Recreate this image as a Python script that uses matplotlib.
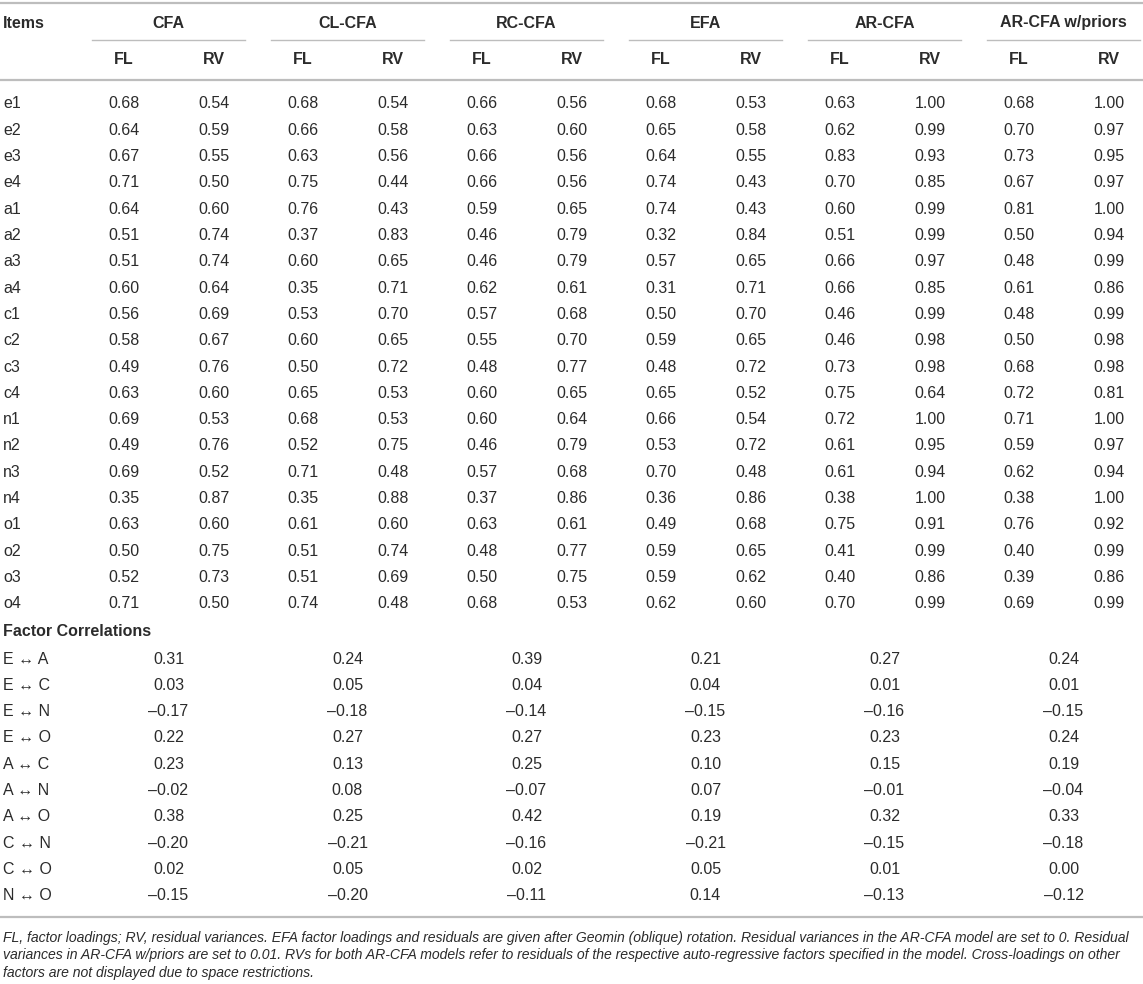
import matplotlib
matplotlib.use('Agg')
import matplotlib.pyplot as plt

plt.rcParams['font.family'] = ['Liberation Sans', 'DejaVu Sans']

models = ['CFA', 'CL-CFA', 'RC-CFA', 'EFA', 'AR-CFA', 'AR-CFA w/priors']
sub_cols = ['FL', 'RV']
items = ['e1', 'e2', 'e3', 'e4', 'a1', 'a2', 'a3', 'a4', 'c1', 'c2',
         'c3', 'c4', 'n1', 'n2', 'n3', 'n4', 'o1', 'o2', 'o3', 'o4']

# FL / RV pairs per model, one row per item
cfa = [(0.68, 0.54), (0.64, 0.59), (0.67, 0.55), (0.71, 0.50), (0.64, 0.60),
       (0.51, 0.74), (0.51, 0.74), (0.60, 0.64), (0.56, 0.69), (0.58, 0.67),
       (0.49, 0.76), (0.63, 0.60), (0.69, 0.53), (0.49, 0.76), (0.69, 0.52),
       (0.35, 0.87), (0.63, 0.60), (0.50, 0.75), (0.52, 0.73), (0.71, 0.50)]
cl_cfa = [(0.68, 0.54), (0.66, 0.58), (0.63, 0.56), (0.75, 0.44), (0.76, 0.43),
          (0.37, 0.83), (0.60, 0.65), (0.35, 0.71), (0.53, 0.70), (0.60, 0.65),
          (0.50, 0.72), (0.65, 0.53), (0.68, 0.53), (0.52, 0.75), (0.71, 0.48),
          (0.35, 0.88), (0.61, 0.60), (0.51, 0.74), (0.51, 0.69), (0.74, 0.48)]
rc_cfa = [(0.66, 0.56), (0.63, 0.60), (0.66, 0.56), (0.66, 0.56), (0.59, 0.65),
          (0.46, 0.79), (0.46, 0.79), (0.62, 0.61), (0.57, 0.68), (0.55, 0.70),
          (0.48, 0.77), (0.60, 0.65), (0.60, 0.64), (0.46, 0.79), (0.57, 0.68),
          (0.37, 0.86), (0.63, 0.61), (0.48, 0.77), (0.50, 0.75), (0.68, 0.53)]
efa = [(0.68, 0.53), (0.65, 0.58), (0.64, 0.55), (0.74, 0.43), (0.74, 0.43),
       (0.32, 0.84), (0.57, 0.65), (0.31, 0.71), (0.50, 0.70), (0.59, 0.65),
       (0.48, 0.72), (0.65, 0.52), (0.66, 0.54), (0.53, 0.72), (0.70, 0.48),
       (0.36, 0.86), (0.49, 0.68), (0.59, 0.65), (0.59, 0.62), (0.62, 0.60)]
ar_cfa = [(0.63, 1.00), (0.62, 0.99), (0.83, 0.93), (0.70, 0.85), (0.60, 0.99),
          (0.51, 0.99), (0.66, 0.97), (0.66, 0.85), (0.46, 0.99), (0.46, 0.98),
          (0.73, 0.98), (0.75, 0.64), (0.72, 1.00), (0.61, 0.95), (0.61, 0.94),
          (0.38, 1.00), (0.75, 0.91), (0.41, 0.99), (0.40, 0.86), (0.70, 0.99)]
ar_cfa_priors = [(0.68, 1.00), (0.70, 0.97), (0.73, 0.95), (0.67, 0.97), (0.81, 1.00),
                 (0.50, 0.94), (0.48, 0.99), (0.61, 0.86), (0.48, 0.99), (0.50, 0.98),
                 (0.68, 0.98), (0.72, 0.81), (0.71, 1.00), (0.59, 0.97), (0.62, 0.94),
                 (0.38, 1.00), (0.76, 0.92), (0.40, 0.99), (0.39, 0.86), (0.69, 0.99)]
loadings = [cfa, cl_cfa, rc_cfa, efa, ar_cfa, ar_cfa_priors]

pairs = ['E \u2194 A', 'E \u2194 C', 'E \u2194 N', 'E \u2194 O', 'A \u2194 C',
         'A \u2194 N', 'A \u2194 O', 'C \u2194 N', 'C \u2194 O', 'N \u2194 O']
corrs = [[0.31, 0.24, 0.39, 0.21, 0.27, 0.24],
         [0.03, 0.05, 0.04, 0.04, 0.01, 0.01],
         [-0.17, -0.18, -0.14, -0.15, -0.16, -0.15],
         [0.22, 0.27, 0.27, 0.23, 0.23, 0.24],
         [0.23, 0.13, 0.25, 0.10, 0.15, 0.19],
         [-0.02, 0.08, -0.07, 0.07, -0.01, -0.04],
         [0.38, 0.25, 0.42, 0.19, 0.32, 0.33],
         [-0.20, -0.21, -0.16, -0.21, -0.15, -0.18],
         [0.02, 0.05, 0.02, 0.05, 0.01, 0.00],
         [-0.15, -0.20, -0.11, 0.14, -0.13, -0.12]]

notes = [
    'FL, factor loadings; RV, residual variances. EFA factor loadings and residuals are given after '
    'Geomin (oblique) rotation. Residual variances in the AR-CFA model are set to 0. Residual',
    'variances in AR-CFA w/priors are set to 0.01. RVs for both AR-CFA models refer to residuals of '
    'the respective auto-regressive factors specified in the model. Cross-loadings on other',
    'factors are not displayed due to space restrictions.',
]


def fmt(v):
    s = '%.2f' % abs(v)
    return ('\u2013' + s) if v < 0 else s


W, H = 1143, 984
fig = plt.figure(figsize=(W / 100, H / 100), dpi=100)
ax = fig.add_axes([0, 0, 1, 1])
ax.set_xlim(0, W)
ax.set_ylim(H, 0)
ax.axis('off')

txt = '#2b2b2b'
rule = '#bdbdbd'
fs = 11.5

group_x0 = [92 + 179 * i for i in range(len(models))]
group_w = 153
fl_off, rv_off = 32, 122

# rules
ax.plot([0, W], [3, 3], color=rule, lw=1.6)
ax.plot([0, W], [80, 80], color=rule, lw=1.6)
ax.plot([0, W], [917, 917], color=rule, lw=1.6)

# header
ax.text(3, 23, 'Items', fontsize=fs, fontweight='bold', color=txt, va='center', ha='left')
for m, x0 in zip(models, group_x0):
    ax.text(x0 + group_w / 2, 23, m, fontsize=fs, fontweight='bold', color=txt,
            va='center', ha='center')
    ax.plot([x0, x0 + group_w], [40, 40], color=rule, lw=1.0)
    for sc, off in zip(sub_cols, [fl_off, rv_off]):
        ax.text(x0 + off, 60, sc, fontsize=fs, fontweight='bold', color=txt,
                va='center', ha='center')

# item rows
row_h = 26.3
y0 = 104
for i, it in enumerate(items):
    y = y0 + i * row_h
    ax.text(3, y, it, fontsize=fs, color=txt, va='center', ha='left')
    for vals, x0 in zip(loadings, group_x0):
        fl, rv = vals[i]
        ax.text(x0 + fl_off, y, fmt(fl), fontsize=fs, color=txt, va='center', ha='center')
        ax.text(x0 + rv_off, y, fmt(rv), fontsize=fs, color=txt, va='center', ha='center')

# factor correlations
yfc = y0 + len(items) * row_h + 2
ax.text(3, yfc, 'Factor Correlations', fontsize=fs, fontweight='bold', color=txt,
        va='center', ha='left')
for j, (p, row) in enumerate(zip(pairs, corrs)):
    y = yfc + 27 + j * 26.3
    ax.text(3, y, p, fontsize=fs, color=txt, va='center', ha='left')
    for v, x0 in zip(row, group_x0):
        ax.text(x0 + group_w / 2, y, fmt(v), fontsize=fs, color=txt, va='center', ha='center')

# footnote
for k, line in enumerate(notes):
    ax.text(3, 938 + k * 17.5, line, fontsize=10.1, style='italic', color=txt,
            va='center', ha='left')

fig.savefig('out.png', dpi=100)
